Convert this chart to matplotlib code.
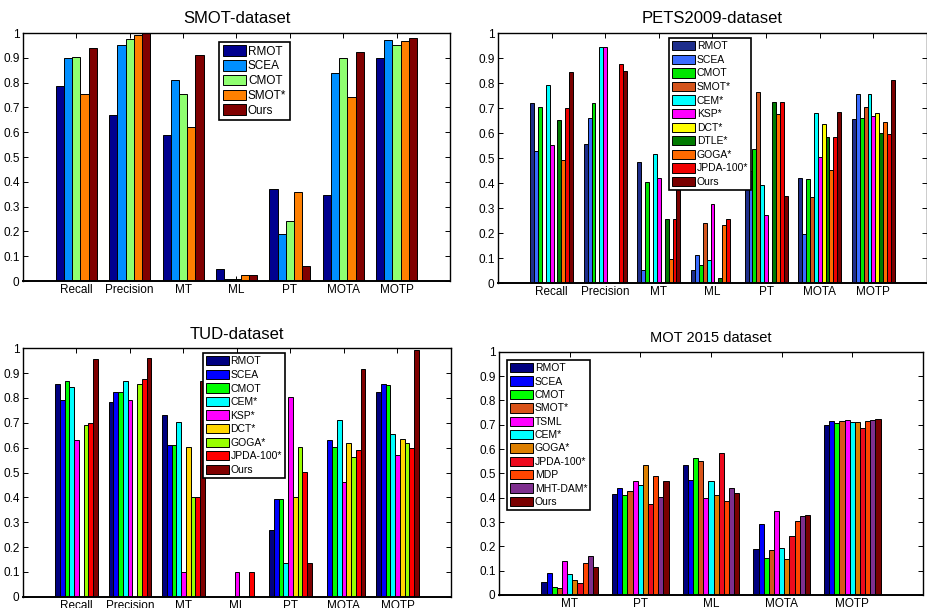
import numpy as np
import matplotlib
matplotlib.use("Agg")
import matplotlib.pyplot as plt

plt.rcParams['font.family'] = ['Liberation Sans', 'DejaVu Sans']

# ---------------- SMOT dataset ----------------
smot_categories = ["Recall", "Precision", "MT", "ML", "PT", "MOTA", "MOTP"]
smot_methods = ["RMOT", "SCEA", "CMOT", "SMOT*", "Ours"]
smot_RMOT = [0.787, 0.671, 0.588, 0.047, 0.370, 0.346, 0.899]
smot_SCEA = [0.900, 0.950, 0.809, 0.007, 0.189, 0.839, 0.973]
smot_CMOT = [0.903, 0.977, 0.756, 0.007, 0.240, 0.900, 0.953]
smot_SMOT = [0.753, 0.992, 0.620, 0.023, 0.357, 0.740, 0.969]
smot_Ours = [0.941, 1.000, 0.910, 0.023, 0.062, 0.923, 0.980]
smot_colors = [(0, 0, 0.5625), (0, 0.5625, 1), (0.5625, 1, 0.4375), (1, 0.5, 0), (0.5, 0, 0)]

# ---------------- PETS2009 dataset ----------------
pets_categories = ["Recall", "Precision", "MT", "ML", "PT", "MOTA", "MOTP"]
pets_methods = ["RMOT", "SCEA", "CMOT", "SMOT*", "CEM*", "KSP*", "DCT*", "DTLE*", "GOGA*", "JPDA-100*", "Ours"]
pets_RMOT = [0.721, 0.557, 0.483, 0.051, 0.420, 0.420, 0.657]
pets_SCEA = [0.529, 0.660, 0.051, 0.111, 0.450, 0.197, 0.756]
pets_CMOT = [0.705, 0.719, 0.405, 0.073, 0.535, 0.417, 0.661]
pets_SMOT = [0.000, 0.000, 0.000, 0.241, 0.765, 0.345, 0.703]
pets_CEM = [0.793, 0.944, 0.517, 0.092, 0.393, 0.681, 0.756]
pets_KSP = [0.553, 0.944, 0.419, 0.317, 0.271, 0.504, 0.669]
pets_DCT = [0.000, 0.000, 0.000, 0.000, 0.000, 0.635, 0.679]
pets_DTLE = [0.653, 0.000, 0.257, 0.021, 0.723, 0.583, 0.601]
pets_GOGA = [0.491, 0.000, 0.096, 0.231, 0.677, 0.452, 0.645]
pets_JPDA = [0.701, 0.877, 0.257, 0.257, 0.723, 0.585, 0.597]
pets_Ours = [0.843, 0.848, 0.450, 0.000, 0.347, 0.684, 0.813]
pets_colors = ["#1E2E8C", "#3A6BFF", "#00E600", "#D4541C", "#00FFFF", "#FF00FF",
               "#FFFF00", "#007A00", "#FF6A00", "#F00000", "#7A0000"]

# ---------------- TUD dataset ----------------
tud_categories = ["Recall", "Precision", "MT", "ML", "PT", "MOTA", "MOTP"]
tud_methods = ["RMOT", "SCEA", "CMOT", "CEM*", "KSP*", "DCT*", "GOGA*", "JPDA-100*", "Ours"]
tud_RMOT = [0.856, 0.784, 0.732, 0.000, 0.268, 0.000, 0.823]
tud_SCEA = [0.792, 0.823, 0.609, 0.000, 0.395, 0.631, 0.858]
tud_CMOT = [0.867, 0.824, 0.609, 0.000, 0.395, 0.601, 0.851]
tud_CEM = [0.846, 0.867, 0.702, 0.000, 0.134, 0.711, 0.655]
tud_KSP = [0.632, 0.792, 0.099, 0.100, 0.803, 0.460, 0.569]
tud_DCT = [0.000, 0.000, 0.601, 0.000, 0.400, 0.617, 0.633]
tud_GOGA = [0.693, 0.856, 0.400, 0.000, 0.601, 0.561, 0.617]
tud_JPDA = [0.699, 0.875, 0.400, 0.100, 0.501, 0.591, 0.599]
tud_Ours = [0.956, 0.961, 0.868, 0.000, 0.134, 0.915, 0.992]
tud_colors = ["#000080", "#0000FF", "#00FF00", "#00FFFF", "#FF00FF", "#FFD700",
              "#99FF00", "#FF0000", "#800000"]

# ---------------- MOT 2015 dataset ----------------
mot_categories = ["MT", "PT", "ML", "MOTA", "MOTP"]
mot_methods = ["RMOT", "SCEA", "CMOT", "SMOT*", "TSML", "CEM*", "GOGA*", "JPDA-100*", "MDP", "MHT-DAM*", "Ours"]
mot_RMOT = [0.052, 0.416, 0.534, 0.188, 0.699]
mot_SCEA = [0.090, 0.440, 0.474, 0.292, 0.714]
mot_CMOT = [0.033, 0.412, 0.563, 0.152, 0.708]
mot_SMOT = [0.029, 0.426, 0.551, 0.184, 0.715]
mot_TSML = [0.141, 0.467, 0.397, 0.345, 0.719]
mot_CEM = [0.086, 0.452, 0.468, 0.193, 0.711]
mot_GOGA = [0.062, 0.534, 0.411, 0.148, 0.711]
mot_JPDA = [0.051, 0.373, 0.584, 0.241, 0.685]
mot_MDP = [0.130, 0.488, 0.385, 0.305, 0.714]
mot_MHT = [0.159, 0.403, 0.441, 0.325, 0.721]
mot_Ours = [0.115, 0.467, 0.420, 0.327, 0.725]
mot_colors = ["#000080", "#0000FF", "#00FF00", "#D95319", "#FF00FF", "#00FFFF",
              "#DD7F00", "#EE0A1E", "#FF4500", "#7E2F8E", "#7A0000"]

yticks = [0, 0.1, 0.2, 0.3, 0.4, 0.5, 0.6, 0.7, 0.8, 0.9, 1.0]
ytick_labels = ["0", "0.1", "0.2", "0.3", "0.4", "0.5", "0.6", "0.7", "0.8", "0.9", "1"]

fig = plt.figure(figsize=(9.27, 6.08), dpi=100)


def grouped(ax, cats, methods, series, colors, title, title_size, leg_anchor, leg_fs,
            leg_spacing, handlelength=2.0):
    n = len(methods)
    x = np.arange(1, len(cats) + 1)
    gw = min(0.8, n / (n + 1.5))
    w = gw / n
    for i, (vals, c, lab) in enumerate(zip(series, colors, methods)):
        off = -gw / 2 + w * (i + 0.5)
        ax.bar(x + off, vals, width=w, color=c, edgecolor='black', linewidth=0.7, label=lab, zorder=2)
    ax.set_xlim(0, len(cats) + 1)
    ax.set_ylim(0, 1)
    ax.set_xticks(x)
    ax.set_xticklabels(cats, fontsize=8.5)
    ax.set_yticks(yticks)
    ax.set_yticklabels(ytick_labels, fontsize=8.5)
    ax.tick_params(direction='in', length=3.5, width=0.7, top=True, right=True, pad=2.5)
    for s in ax.spines.values():
        s.set_linewidth(1.0)
    ax.spines['bottom'].set_linewidth(1.4)
    ax.set_title(title, fontsize=title_size, pad=7)
    leg = ax.legend(loc='upper left', bbox_to_anchor=leg_anchor, fontsize=leg_fs,
                    frameon=True, fancybox=False, framealpha=1, edgecolor='black',
                    borderaxespad=0, borderpad=0.3, handlelength=handlelength, handleheight=1.0,
                    handletextpad=0.15, labelspacing=leg_spacing)
    leg.get_frame().set_linewidth(1.2)
    leg.set_zorder(5)


ax1 = fig.add_axes([0.0248, 0.5378, 0.4606, 0.4079])
grouped(ax1, smot_categories, smot_methods,
        [smot_RMOT, smot_SCEA, smot_CMOT, smot_SMOT, smot_Ours], smot_colors,
        "SMOT-dataset", 12, (0.459, 0.964), 8.5, 0.2)

ax2 = fig.add_axes([0.5372, 0.5345, 0.4628, 0.4112])
grouped(ax2, pets_categories, pets_methods,
        [pets_RMOT, pets_SCEA, pets_CMOT, pets_SMOT, pets_CEM, pets_KSP, pets_DCT,
         pets_DTLE, pets_GOGA, pets_JPDA, pets_Ours], pets_colors,
        "PETS2009-dataset", 12, (0.399, 0.98), 7.5, 0.32, 2.2)

ax3 = fig.add_axes([0.0248, 0.0186, 0.4617, 0.4085])
grouped(ax3, tud_categories, tud_methods,
        [tud_RMOT, tud_SCEA, tud_CMOT, tud_CEM, tud_KSP, tud_DCT, tud_GOGA, tud_JPDA, tud_Ours],
        tud_colors, "TUD-dataset", 12, (0.42, 0.981), 7.5, 0.32, 2.2)

ax4 = fig.add_axes([0.5383, 0.0214, 0.4574, 0.4001])
grouped(ax4, mot_categories, mot_methods,
        [mot_RMOT, mot_SCEA, mot_CMOT, mot_SMOT, mot_TSML, mot_CEM, mot_GOGA, mot_JPDA,
         mot_MDP, mot_MHT, mot_Ours], mot_colors,
        "MOT 2015 dataset", 10.5, (0.019, 0.966), 7.5, 0.30, 2.2)

fig.savefig("out.png", dpi=100)
